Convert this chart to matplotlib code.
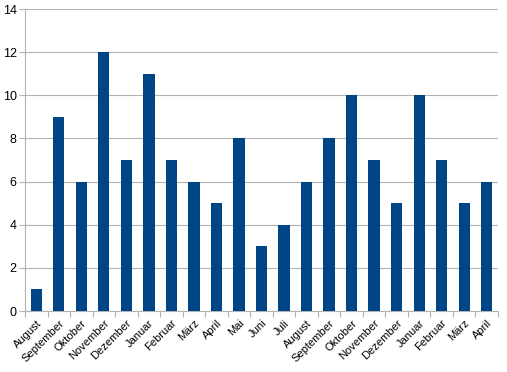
import numpy as np
import matplotlib.pyplot as plt

plt.rcParams['font.family'] = ['Liberation Sans', 'DejaVu Sans']

# Data
months = ['August', 'September', 'Oktober', 'November', 'Dezember', 'Januar',
          'Februar', 'März', 'April', 'Mai', 'Juni', 'Juli', 'August',
          'September', 'Oktober', 'November', 'Dezember', 'Januar', 'Februar',
          'März', 'April']
values = [1, 9, 6, 12, 7, 11, 7, 6, 5, 8, 3, 4, 6, 8, 10, 7, 5, 10, 7, 5, 6]

fig = plt.figure(figsize=(5.07, 3.72), dpi=100)
ax = fig.add_axes([25 / 507, 1 - 311 / 372, (498 - 25) / 507, (311 - 9) / 372])

x = np.arange(len(months))
ax.bar(x, values, width=0.5, color='#004586', zorder=3)

ax.set_xlim(-0.5, len(months) - 0.5)
ax.set_ylim(0, 14)
ax.set_yticks(range(0, 15, 2))
ax.yaxis.grid(True, color='#b3b3b3', linewidth=0.8, zorder=0)

# tick marks between categories, labels centred under bars
ax.set_xticks(np.arange(-0.5, len(months), 1))
ax.set_xticklabels([])
ax.set_xticks(x, minor=True)
ax.set_xticklabels(months, minor=True, rotation=45, ha='right',
                   rotation_mode='anchor', fontsize=8)
ax.tick_params(axis='x', which='minor', length=0, pad=5)
ax.tick_params(axis='x', which='major', length=4, color='#b3b3b3')
ax.tick_params(axis='y', length=4, color='#b3b3b3', labelsize=9, pad=2)

for s in ['top', 'right']:
    ax.spines[s].set_visible(False)
for s in ['left', 'bottom']:
    ax.spines[s].set_color('#b3b3b3')

fig.savefig('out.png', dpi=100)
